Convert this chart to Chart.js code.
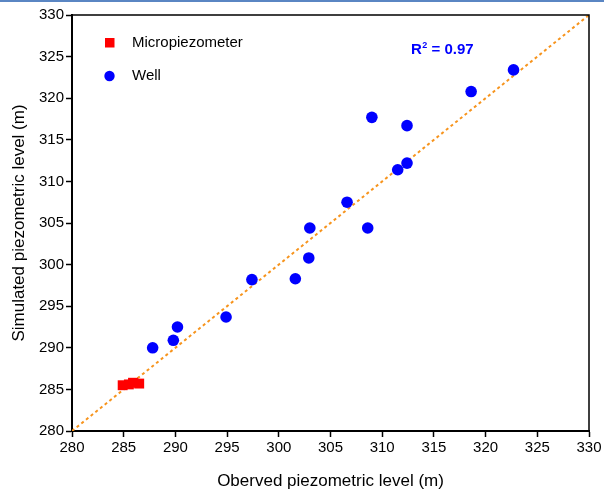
<!DOCTYPE html>
<html>
<head>
<meta charset="utf-8">
<script src="https://cdn.jsdelivr.net/npm/chart.js@4/dist/chart.umd.min.js"></script>
<style>
  html, body { margin: 0; padding: 0; background: #ffffff; }
  #wrap { position: relative; width: 604px; height: 492px; }
  #topline { position: absolute; left: 0; top: 0; width: 604px; height: 2px; background: #5a86c3; }
  canvas { display: block; }
</style>
</head>
<body>
<div id="wrap">
  <canvas id="c" width="604" height="492"></canvas>
  <div id="topline"></div>
</div>
<script>
// ---- Data ----
const microObserved  = [284.9, 285.5, 285.9, 286.5];
const microSimulated = [285.5, 285.6, 285.8, 285.7];

const wellObserved  = [287.8, 289.8, 290.2, 294.9, 297.4, 301.6, 302.9, 303.0, 308.6, 306.6, 311.5, 312.4, 309.0, 312.4, 318.6, 322.7];
const wellSimulated = [290.0, 290.9, 292.5, 293.7, 298.2, 298.3, 300.8, 304.4, 304.4, 307.5, 311.4, 312.2, 317.7, 316.7, 320.8, 323.4];

const oneToOne = [280, 330];
const axisMin = 280, axisMax = 330, axisStep = 5;
const seriesNames = ['Micropiezometer', 'Well'];
const r2Label = '0.97';
const xTitle = 'Oberved piezometric level (m)';
const yTitle = 'Simulated piezometric level (m)';

const FONT = "Arial, 'Liberation Sans', sans-serif";

// ---- Plugins ----
const framePlugin = {
  id: 'frame',
  afterDatasetsDraw(chart) {
    const {ctx, chartArea: a} = chart;
    ctx.save();
    ctx.strokeStyle = '#000';
    ctx.lineWidth = 1.5;
    ctx.beginPath();
    ctx.moveTo(a.left, a.top);
    ctx.lineTo(a.right, a.top);
    ctx.lineTo(a.right, a.bottom);
    ctx.stroke();
    ctx.restore();
  }
};

const annotPlugin = {
  id: 'annot',
  afterDraw(chart) {
    const {ctx} = chart;
    ctx.save();
    // legend
    ctx.fillStyle = '#ff0000';
    ctx.fillRect(105, 38, 9.5, 9.5);
    ctx.fillStyle = '#0000ff';
    ctx.beginPath();
    ctx.arc(109.5, 76, 5.2, 0, Math.PI * 2);
    ctx.fill();
    ctx.fillStyle = '#000';
    ctx.font = "15px " + FONT;
    ctx.textBaseline = 'middle';
    ctx.textAlign = 'left';
    ctx.fillText(seriesNames[0], 132, 43);
    ctx.fillText(seriesNames[1], 132, 76);
    // R^2
    ctx.fillStyle = '#0000ff';
    ctx.font = "bold 15px " + FONT;
    ctx.textBaseline = 'alphabetic';
    let x = 411, y = 54;
    ctx.fillText('R', x, y);
    x += ctx.measureText('R').width;
    ctx.font = "bold 9px " + FONT;
    ctx.fillText('2', x + 0.5, y - 6);
    x += ctx.measureText('2').width + 0.5;
    ctx.font = "bold 15px " + FONT;
    ctx.fillText(' = ' + r2Label, x, y);
    ctx.restore();
  }
};

// ---- Chart ----
new Chart(document.getElementById('c'), {
  type: 'scatter',
  data: {
    datasets: [
      {
        label: '1:1',
        type: 'line',
        data: oneToOne.map(v => ({x: v, y: v})),
        borderColor: '#f7941d',
        borderWidth: 2,
        borderDash: [3, 3],
        pointRadius: 0,
        fill: false,
        order: 3
      },
      {
        label: seriesNames[1],
        data: wellObserved.map((v, i) => ({x: v, y: wellSimulated[i]})),
        backgroundColor: '#0000ff',
        borderWidth: 0,
        pointRadius: 5.8,
        pointStyle: 'circle',
        order: 2
      },
      {
        label: seriesNames[0],
        data: microObserved.map((v, i) => ({x: v, y: microSimulated[i]})),
        backgroundColor: '#ff0000',
        borderWidth: 0,
        pointRadius: 7,
        pointStyle: 'rect',
        order: 1
      }
    ]
  },
  options: {
    responsive: false,
    animation: false,
    layout: { padding: { left: 0, right: 15, top: 15, bottom: 0 } },
    plugins: { legend: { display: false }, tooltip: { enabled: false } },
    scales: {
      x: {
        type: 'linear',
        min: axisMin, max: axisMax,
        afterFit(s) { s.height = 61; },
        ticks: { stepSize: axisStep, color: '#000', font: { family: FONT, size: 15 }, padding: 2, maxRotation: 0 },
        grid: { drawOnChartArea: false, drawTicks: true, tickLength: 6, color: '#000', tickWidth: 1.5 },
        border: { display: true, color: '#000', width: 2 },
        title: { display: true, text: xTitle, color: '#000', font: { family: FONT, size: 17 }, padding: { top: 0, bottom: 0 } }
      },
      y: {
        type: 'linear',
        min: axisMin, max: axisMax,
        afterFit(s) { s.width = 72; },
        ticks: { stepSize: axisStep, color: '#000', font: { family: FONT, size: 15 }, padding: 2 },
        grid: { drawOnChartArea: false, drawTicks: true, tickLength: 6, color: '#000', tickWidth: 1.5 },
        border: { display: true, color: '#000', width: 2 },
        title: { display: true, text: yTitle, color: '#000', font: { family: FONT, size: 17 }, padding: { top: 9, bottom: 0 } }
      }
    }
  },
  plugins: [framePlugin, annotPlugin]
});
</script>
</body>
</html>
